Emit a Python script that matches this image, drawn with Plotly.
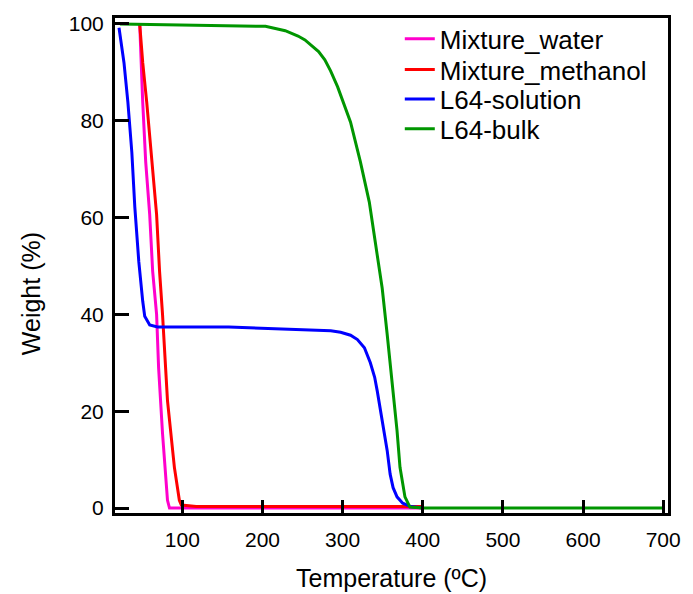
import plotly.graph_objects as go

# Temperature (°C) / Weight (%)
water_T = [46.9, 48.1, 50.6, 54.3, 59.3, 63.0, 67.9, 70.4, 75.3, 81.5, 84.0, 100, 200, 300, 400]
water_W = [99.8, 93.0, 83.8, 71.5, 60.6, 48.9, 40.0, 29.0, 15.4, 1.6, 0.0, 0.0, 0.0, 0.0, 0.0]

meth_T = [46.9, 50.6, 55.6, 61.7, 67.9, 71.6, 75.3, 81.5, 90.1, 96.3, 98.8, 117.3, 139.5, 200, 300, 400]
meth_W = [99.8, 92.0, 83.8, 71.5, 60.6, 48.9, 40.0, 22.2, 8.4, 1.6, 0.6, 0.3, 0.3, 0.3, 0.3, 0.3]

sol_T = [21.0, 27.2, 32.1, 37.0, 40.7, 45.7, 50.6, 53.1, 59.3, 69.1, 158, 222.2, 244.4, 285.2,
         297.5, 309.9, 318.5, 327.2, 334.6, 340.0, 343.2, 349.4, 355.6, 359.3, 363.0, 367.9,
         375.0, 385.0, 400]
sol_W = [99.2, 92.0, 83.8, 73.5, 62.2, 50.9, 42.7, 39.6, 37.8, 37.4, 37.4, 37.0, 37.0, 36.6,
         36.3, 35.7, 34.8, 33.1, 30.0, 27.0, 24.2, 18.1, 11.9, 7.0, 4.2, 2.3,
         1.0, 0.3, 0.0]

bulk_T = [22.2, 117.3, 203.7, 228.4, 244.4, 253.0, 260.5, 270.0, 277.8, 285.0, 293.8, 301.0,
          309.9, 322.2, 333.3, 340.7, 349.4, 355.6, 361.7, 367.9, 371.6, 377.8, 384.0,
          400, 500, 600, 700]
bulk_W = [100.0, 99.8, 99.5, 98.6, 97.5, 96.7, 95.7, 94.3, 92.6, 90.3, 87.0, 83.9,
          79.7, 71.5, 63.2, 55.0, 45.4, 35.9, 26.3, 16.0, 8.4, 2.3, 0.2,
          0.0, 0.0, 0.0, 0.0]

x_ticks = [100, 200, 300, 400, 500, 600, 700]
y_ticks = [0, 20, 40, 60, 80, 100]

series = [
    ("Mixture_water", water_T, water_W, "#ff00cc"),
    ("Mixture_methanol", meth_T, meth_W, "#ff0000"),
    ("L64-solution", sol_T, sol_W, "#0000ff"),
    ("L64-bulk", bulk_T, bulk_W, "#009600"),
]

FONT = "Liberation Sans, Arial, sans-serif"
legend_ids = ["legend", "legend2", "legend3", "legend4"]
legend_y = [0.958, 0.896, 0.836, 0.776]

fig = go.Figure()
for (name, xs, ys, col), lid in zip(series, legend_ids):
    fig.add_trace(go.Scatter(x=xs, y=ys, mode="lines", name=name, legend=lid,
                             line=dict(color=col, width=3)))

axis_common = dict(showgrid=False, zeroline=False, showline=True, linecolor="black",
                   linewidth=3, mirror=True, ticks="inside", tickcolor="black",
                   tickwidth=3, tickfont=dict(family=FONT, size=21, color="black"))

fig.update_xaxes(range=[16, 706], tickvals=x_ticks, ticklen=13, ticklabelstandoff=6,
                 **axis_common)
fig.update_yaxes(range=[-1.03, 101.23], tickvals=y_ticks, ticklen=14, ticklabelstandoff=4,
                 **axis_common)

fig.add_annotation(text="Temperature (ºC)", xref="paper", yref="paper", x=0.5, y=-0.1305,
                   showarrow=False, font=dict(family=FONT, size=25, color="black"),
                   xanchor="center", yanchor="middle")
fig.add_annotation(text="Weight (%)", xref="paper", yref="paper", x=-0.152, y=0.444,
                   showarrow=False, textangle=-90,
                   font=dict(family=FONT, size=25, color="black"),
                   xanchor="center", yanchor="middle")

legend_layout = {}
for lid, ly in zip(legend_ids, legend_y):
    legend_layout[lid] = dict(x=0.515, y=ly, xanchor="left", yanchor="middle",
                              bgcolor="rgba(0,0,0,0)",
                              font=dict(family=FONT, size=26, color="black"))

fig.update_layout(
    width=693, height=594,
    margin=dict(l=115, r=19, t=15, b=81),
    paper_bgcolor="white", plot_bgcolor="white",
    showlegend=True,
    **legend_layout,
)

fig.write_html("out.html", config={"displayModeBar": False},
               post_script="document.body.style.margin='0';document.body.style.overflow='hidden';")
